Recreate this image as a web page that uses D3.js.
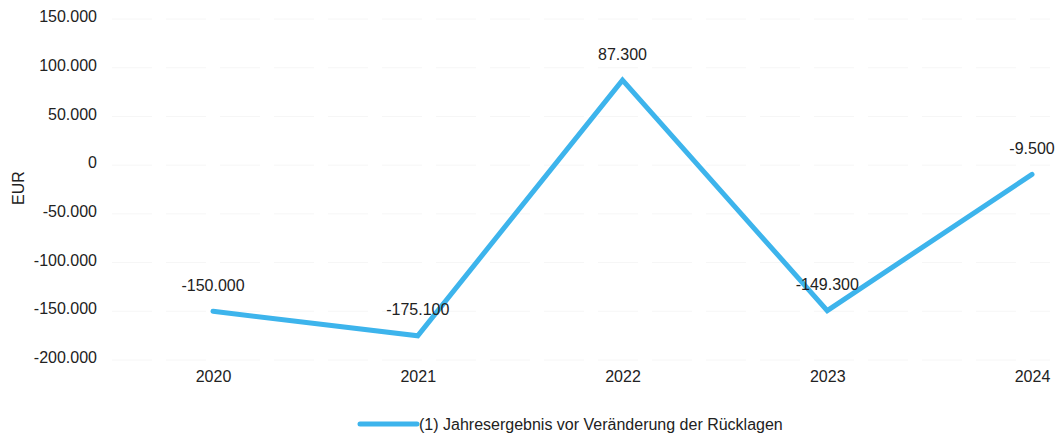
<!DOCTYPE html>
<html>
<head>
<meta charset="utf-8">
<script src="https://cdn.jsdelivr.net/npm/d3@7"></script>
<style>
  html, body { margin: 0; padding: 0; background: #fff; }
  svg text { font-family: "Liberation Sans", Arial, sans-serif; fill: #222; }
</style>
</head>
<body>
<svg id="chart" width="1057" height="434"></svg>
<script>
// Jahresergebnis vor Veränderung der Rücklagen, in EUR
const years = ["2020", "2021", "2022", "2023", "2024"];
const values = [-150000, -175100, 87300, -149300, -9500];
const yTicks = [-200000, -150000, -100000, -50000, 0, 50000, 100000, 150000];
const seriesName = "(1) Jahresergebnis vor Veränderung der Rücklagen";
const axisTitle = "EUR";

const svg = d3.select("#chart");
const lineColor = "#3db4ec";
const fontSize = 16;

// German number format: dot as thousands separator, plain hyphen as minus
const fmt = d3.formatLocale({
  decimal: ",", thousands: ".", grouping: [3], currency: ["", " €"], minus: "-"
}).format(",.0f");

const x = d3.scalePoint().domain(years).range([213, 1032]);
const y = d3.scaleLinear().domain([-200000, 150000]).range([360, 19]);

// faint horizontal grid
svg.append("g")
  .selectAll("line")
  .data(yTicks)
  .join("line")
  .attr("x1", 112).attr("x2", 1050)
  .attr("y1", d => y(d)).attr("y2", d => y(d))
  .attr("stroke", "#f6f6f6")
  .attr("stroke-width", 1)
  .attr("stroke-dasharray", "40,14");

// y axis labels
const yAxis = d3.axisLeft(y).tickValues(yTicks).tickFormat(fmt).tickSize(0).tickPadding(0);
const yg = svg.append("g").attr("transform", "translate(97,-2.5)").call(yAxis);
yg.select(".domain").remove();
yg.selectAll("text").attr("font-size", fontSize).attr("fill", "#222")
  .style("font-family", '"Liberation Sans", Arial, sans-serif');

// x axis labels
const xAxis = d3.axisBottom(x).tickSize(0).tickPadding(0);
const xg = svg.append("g").attr("transform", "translate(0,371)").call(xAxis);
xg.select(".domain").remove();
xg.selectAll("text").attr("font-size", fontSize).attr("fill", "#222")
  .style("font-family", '"Liberation Sans", Arial, sans-serif');

// y axis title
svg.append("text")
  .attr("transform", "translate(24,188) rotate(-90)")
  .attr("text-anchor", "middle")
  .attr("font-size", fontSize)
  .text(axisTitle);

// series line
const line = d3.line()
  .x((d, i) => x(years[i]))
  .y(d => y(d));
svg.append("path")
  .datum(values)
  .attr("d", line)
  .attr("fill", "none")
  .attr("stroke", lineColor)
  .attr("stroke-width", 5)
  .attr("stroke-linejoin", "miter")
  .attr("stroke-linecap", "round");

// value labels
svg.append("g")
  .selectAll("text")
  .data(values)
  .join("text")
  .attr("x", (d, i) => x(years[i]))
  .attr("y", d => y(d) - 26)
  .attr("dy", "0.35em")
  .attr("text-anchor", "middle")
  .attr("font-size", fontSize)
  .text(d => fmt(d));

// legend
const legend = svg.append("g").attr("transform", "translate(360,424)");
legend.append("line")
  .attr("x1", 0).attr("x2", 57).attr("y1", 0).attr("y2", 0)
  .attr("stroke", lineColor).attr("stroke-width", 5).attr("stroke-linecap", "round");
legend.append("text")
  .attr("x", 59).attr("y", 0).attr("dy", "0.35em")
  .attr("font-size", fontSize)
  .text(seriesName);
</script>
</body>
</html>
